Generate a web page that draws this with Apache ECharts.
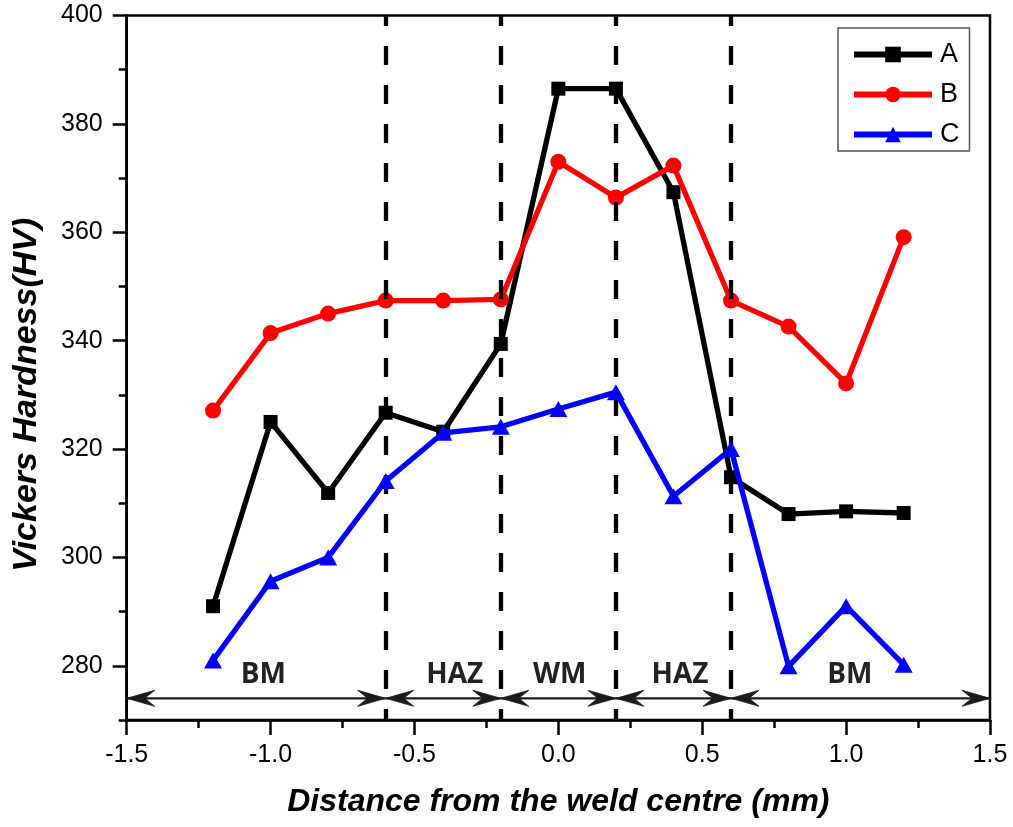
<!DOCTYPE html>
<html>
<head>
<meta charset="utf-8">
<title>Vickers Hardness across the weld</title>
<script src="https://cdn.jsdelivr.net/npm/echarts@6/dist/echarts.min.js"></script>
<style>
  html, body { margin: 0; padding: 0; background: #fff; }
  #chart { width: 1013px; height: 827px; }
</style>
</head>
<body>
<div id="chart"></div>
<script>
// Measurement positions (mm from the weld centre)
const distances = [-1.2, -1.0, -0.8, -0.6, -0.4, -0.2, 0.0, 0.2, 0.4, 0.6, 0.8, 1.0, 1.2];

// Hardness profiles (HV)
const hardnessA = [291.0, 325.0, 311.9, 326.7, 323.2, 339.4, 386.5, 386.5, 367.4, 314.8, 308.0, 308.5, 308.2];
const hardnessB = [327.1, 341.4, 345.0, 347.4, 347.4, 347.6, 373.0, 366.4, 372.3, 347.4, 342.6, 332.1, 359.1];
const hardnessC = [281.0, 295.6, 300.0, 314.1, 323.0, 324.1, 327.4, 330.5, 311.3, 320.0, 279.9, 291.0, 280.2];

// Zone boundaries (dashed lines) and zone extents for the arrows
const zoneBoundaries = [-0.6, -0.2, 0.2, 0.6];
const zoneStarts = [-1.5, -0.6, -0.2, 0.2, 0.6];
const zoneEnds   = [-0.6, -0.2, 0.2, 0.6, 1.5];
const zoneNames  = ['BM', 'HAZ', 'WM', 'HAZ', 'BM'];
const zoneLabelX = [-1.025, -0.36, 0.005, 0.423, 1.013];
const arrowLevel = 274;   // HV level of the zone arrows
const labelLevel = 278.3; // HV level of the zone names

// Axis ticks
const xMin = -1.5, xMax = 1.5, xStep = 0.5;
const yMin = 270, yMax = 400, yMinorStep = 10;
const yMajorTicks = [280, 300, 320, 340, 360, 380, 400];

const BASE_FONT = '"Liberation Sans", Arial, sans-serif';
const AXIS_COLOR = '#000';

const chart = echarts.init(document.getElementById('chart'), null, { renderer: 'canvas' });

function zip(xs, ys) { return xs.map((x, i) => [x, ys[i]]); }

const arrowData = zoneStarts.map((s, i) => [s, zoneEnds[i], arrowLevel]);
const zoneLabelData = zoneLabelX.map((x, i) => [x, labelLevel, zoneNames[i]]);

// Swept arrowhead with its tip at (tipX, tipY); dir = +1 points left, -1 points right
function arrowHead(tipX, tipY, dir) {
  const len = 28, half = 8, notch = 18;
  return {
    type: 'polygon',
    shape: {
      points: [
        [tipX, tipY],
        [tipX + dir * len, tipY - half],
        [tipX + dir * notch, tipY],
        [tipX + dir * len, tipY + half]
      ]
    },
    style: { fill: '#1a1a1a', stroke: '#1a1a1a', lineWidth: 0.8 }
  };
}

const option = {
  backgroundColor: '#fff',
  animation: false,
  grid: {
    left: 126.7, right: 23, top: 15.5, bottom: 107,
    show: true, borderColor: AXIS_COLOR, borderWidth: 2.5, backgroundColor: 'transparent'
  },
  legend: {
    data: ['A', 'B', 'C'],
    orient: 'vertical',
    left: 838, top: 28,
    padding: [13, 10, 3, 13],
    itemWidth: 78, itemHeight: 19.5, itemGap: 13,
    borderColor: '#555', borderWidth: 1.5,
    backgroundColor: '#fff',
    lineStyle: { width: 6 },
    textStyle: { fontFamily: BASE_FONT, fontSize: 27, lineHeight: 26, color: '#000', padding: [0, 0, 0, 3] }
  },
  xAxis: {
    type: 'value', min: xMin, max: xMax, interval: xStep,
    name: 'Distance from the weld centre (mm)',
    nameLocation: 'middle', nameGap: 66,
    nameTextStyle: { fontFamily: BASE_FONT, fontSize: 32, fontWeight: 'bold', fontStyle: 'italic', color: '#000' },
    axisLine: { show: true, onZero: false, lineStyle: { color: AXIS_COLOR, width: 2.5 } },
    axisTick: { show: true, inside: false, length: 15, lineStyle: { color: AXIS_COLOR, width: 2.5 } },
    minorTick: { show: true, splitNumber: 2, length: 8, lineStyle: { color: AXIS_COLOR, width: 2.5 } },
    axisLabel: {
      margin: 23, fontFamily: BASE_FONT, fontSize: 25, color: '#000',
      formatter: v => v.toFixed(1)
    },
    splitLine: { show: false }
  },
  yAxis: [
    {
      type: 'value', min: yMin, max: yMax, interval: yMinorStep,
      name: 'Vickers Hardness(HV)',
      nameLocation: 'middle', nameGap: 83,
      nameTextStyle: {
        fontFamily: BASE_FONT, fontSize: 34, fontWeight: 'bold', fontStyle: 'italic', color: '#000',
        padding: [0, 54, 0, 0]
      },
      axisLine: { show: true, onZero: false, lineStyle: { color: AXIS_COLOR, width: 2.5 } },
      axisTick: { show: true, inside: false, length: 8, lineStyle: { color: AXIS_COLOR, width: 2.5 } },
      axisLabel: { show: false },
      splitLine: { show: false }
    },
    {
      // major ticks and labels every 20 HV
      type: 'value', min: yMin, max: yMax, position: 'left', offset: 0,
      axisLine: { show: false, onZero: false },
      axisTick: { show: true, inside: false, length: 14, customValues: yMajorTicks, lineStyle: { color: AXIS_COLOR, width: 2.5 } },
      axisLabel: { show: true, margin: 24, customValues: yMajorTicks, fontFamily: BASE_FONT, fontSize: 25, color: '#000' },
      splitLine: { show: false }
    }
  ],
  series: [
    {
      name: 'A', type: 'line', data: zip(distances, hardnessA),
      symbol: 'rect', symbolSize: 14,
      color: '#000',
      lineStyle: { color: '#000', width: 5.3 },
      itemStyle: { color: '#000' },
      markLine: {
        silent: true, symbol: 'none',
        label: { show: false },
        lineStyle: { color: '#000', width: 4.3, type: [19, 20], dashOffset: 8 },
        data: zoneBoundaries.map(v => ({ xAxis: v }))
      },
      z: 3
    },
    {
      name: 'B', type: 'line', data: zip(distances, hardnessB),
      symbol: 'circle', symbolSize: 16,
      color: '#ff0000',
      lineStyle: { color: '#ff0000', width: 5.3 },
      itemStyle: { color: '#ff0000' },
      z: 4
    },
    {
      name: 'C', type: 'line', data: zip(distances, hardnessC),
      symbol: 'triangle', symbolSize: [18, 16],
      color: '#0000ff',
      lineStyle: { color: '#0000ff', width: 5.3 },
      itemStyle: { color: '#0000ff' },
      z: 5
    },
    {
      // double-headed arrows spanning each zone
      name: 'zones', type: 'custom', data: arrowData,
      encode: { x: [0, 1], y: 2 },
      silent: true, clip: false, z: 2,
      renderItem: (params, api) => {
        const a = api.coord([api.value(0), api.value(2)]);
        const b = api.coord([api.value(1), api.value(2)]);
        return {
          type: 'group',
          children: [
            { type: 'line', shape: { x1: a[0], y1: a[1], x2: b[0], y2: b[1] },
              style: { stroke: '#1a1a1a', lineWidth: 2.2 } },
            arrowHead(a[0], a[1], 1),
            arrowHead(b[0], b[1], -1)
          ]
        };
      }
    },
    {
      // zone names above the arrows
      name: 'zoneNames', type: 'custom', data: zoneLabelData,
      encode: { x: 0, y: 1 },
      silent: true, clip: false, z: 2,
      renderItem: (params, api) => {
        const p = api.coord([api.value(0), api.value(1)]);
        return {
          type: 'text', x: p[0], y: p[1],
          style: {
            text: zoneNames[params.dataIndex],
            font: 'bold 28px "Open Sans", "Noto Sans", sans-serif',
            fill: '#222', align: 'center', verticalAlign: 'middle'
          }
        };
      }
    }
  ]
};

chart.setOption(option);
</script>
</body>
</html>
